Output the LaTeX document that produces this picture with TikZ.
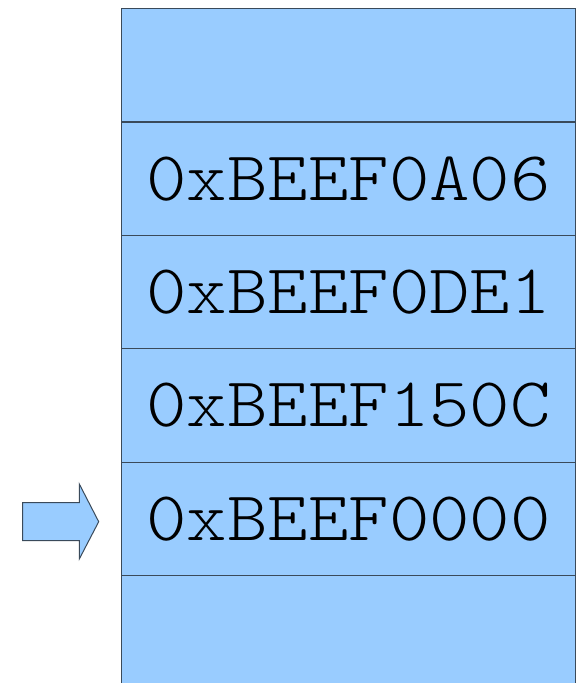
\documentclass[tikz,border=0pt]{standalone}
\usepackage{fontspec}
\newfontfamily\cellfont{Latin Modern Mono Light}[FakeStretch=1.1]
\definecolor{cellfill}{HTML}{99CCFF}
\definecolor{cellline}{HTML}{3A4A5A}
\begin{document}
\begin{tikzpicture}[x=1pt,y=-1pt,
  cell/.style={draw=cellline, fill=cellfill, line width=1.2pt, minimum width=454pt, minimum height=113.4pt, inner sep=0pt, anchor=north west, font=\cellfont\fontsize{70}{70}\selectfont},
  pointer/.style={draw=cellline, fill=cellfill, line width=1pt, line join=miter}]
\useasboundingbox (0,0) rectangle (583,683);
\clip (0,0) rectangle (583,683);
\node[cell] (c0) at (121,8) {};
\node[cell] (c1) at (121,121.4) {0xBEEF0A06};
\node[cell] (c2) at (121,234.8) {0xBEEF0DE1};
\node[cell] (c3) at (121,348.2) {0xBEEF150C};
\node[cell] (c4) at (121,461.6) {0xBEEF0000};
\node[cell] (c5) at (121,575) {};
\draw[pointer] (22.7,502.7) -- (79.3,502.7) -- (79.3,484) -- (98.7,521.7) -- (79.3,559) -- (79.3,540.7) -- (22.7,540.7) -- cycle;
\end{tikzpicture}
\end{document}
